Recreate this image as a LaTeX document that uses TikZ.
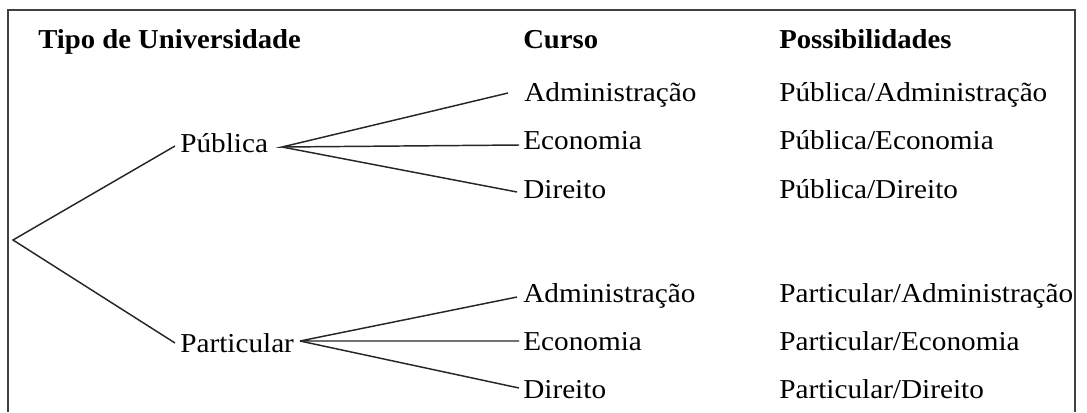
\documentclass[tikz,border=0pt]{standalone}
\usepackage{fontspec}
\setmainfont{Liberation Serif}[UprightFeatures={FakeStretch=1.07},BoldFeatures={FakeStretch=1.05}]
\begin{document}
\begin{tikzpicture}[x=0.75pt,y=-0.75pt,
  lbl/.style={anchor=base west,inner sep=0pt,font=\fontsize{20.5pt}{24pt}\selectfont,text=black},
  hdr/.style={lbl,font=\fontsize{20.5pt}{24pt}\selectfont\bfseries},
  branch/.style={draw=black!85,line width=1.1pt},
  frame/.style={draw=black!75,line width=0.9pt}]
\useasboundingbox (0,0) rectangle (1087,412);
\draw[frame] (8,412) -- (8,10) -- (1075,10) -- (1075,412);
% headers
\node[hdr] (tipo) at (38,48) {Tipo de Universidade};
\node[hdr] (curso) at (523,48) {Curso};
\node[hdr] (poss) at (779,48) {Possibilidades};
% university types
\coordinate (root) at (13,240);
\node[lbl] (pub) at (180,152) {Pública};
\node[lbl] (par) at (180,352) {Particular};
% courses
\node[lbl] (c1a) at (524,101) {Administração};
\node[lbl] (c1e) at (523,149) {Economia};
\node[lbl] (c1d) at (523,198) {Direito};
\node[lbl] (c2a) at (523,302) {Administração};
\node[lbl] (c2e) at (523,350) {Economia};
\node[lbl] (c2d) at (523,398) {Direito};
% possibilities
\node[lbl] (p1a) at (779,101) {Pública/Administração};
\node[lbl] (p1e) at (779,149) {Pública/Economia};
\node[lbl] (p1d) at (779,198) {Pública/Direito};
\node[lbl] (p2a) at (779,302) {Particular/Administração};
\node[lbl] (p2e) at (779,350) {Particular/Economia};
\node[lbl] (p2d) at (779,398) {Particular/Direito};
% connectors
\draw[branch] ([shift={(-5,-6)}]pub.base west) -- (root) -- ([shift={(-5,-9)}]par.base west);
\draw[branch] ([shift={(-16,-8)}]c1a.base west) -- ([shift={(102,-5)}]pub.base west) -- ([shift={(-4,-4)}]c1e.base west);
\draw[branch] ([shift={(102,-5)}]pub.base west) -- ([shift={(-6,-6)}]c1d.base west);
\draw[branch] ([shift={(-6,-5)}]c2a.base west) -- ([shift={(120,-11)}]par.base west) -- ([shift={(-4,-9)}]c2e.base west);
\draw[branch] ([shift={(120,-11)}]par.base west) -- ([shift={(-4,-10)}]c2d.base west);
\end{tikzpicture}
\end{document}
